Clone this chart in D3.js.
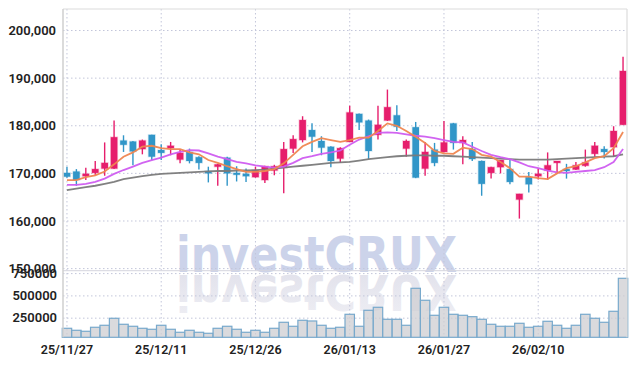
<!DOCTYPE html>
<html>
<head>
<meta charset="utf-8">
<script src="https://cdn.jsdelivr.net/npm/d3@7"></script>
<style>
  body { margin: 0; background: #fff; }
  svg { display: block; font-family: Roboto, "Liberation Sans", sans-serif; }
</style>
</head>
<body>
<div id="chart"></div>
<script>
// trading days (yy/mm/dd)
var dates = ["25/11/27","25/11/28","25/12/01","25/12/02","25/12/03","25/12/04","25/12/05","25/12/08","25/12/09","25/12/10",
  "25/12/11","25/12/12","25/12/15","25/12/16","25/12/17","25/12/18","25/12/19","25/12/22","25/12/23","25/12/24",
  "25/12/26","25/12/29","25/12/30","26/01/02","26/01/05","26/01/06","26/01/07","26/01/08","26/01/09","26/01/12",
  "26/01/13","26/01/14","26/01/15","26/01/16","26/01/19","26/01/20","26/01/21","26/01/22","26/01/23","26/01/26",
  "26/01/27","26/01/28","26/01/29","26/01/30","26/02/02","26/02/03","26/02/04","26/02/05","26/02/06","26/02/09",
  "26/02/10","26/02/11","26/02/12","26/02/13","26/02/19","26/02/20","26/02/23","26/02/24","26/02/25","26/02/26"];

var openP = [170100,170400,169400,170100,171000,171000,176900,176700,175100,178100,
  174900,175300,172900,174500,173400,170500,171400,173300,170100,169900,
  169200,168600,170600,171200,175200,177000,179100,176800,175600,173100,
  176600,182500,181100,178100,181100,182200,175200,179700,171000,175000,
  174500,180500,176400,175100,172600,170100,171300,170900,164500,169200,
  169400,170600,172200,170900,170800,171600,174100,175100,175500,180200];
var highP = [171400,170900,171200,172600,176500,181100,178000,176800,177100,178100,
  176100,176600,175000,175200,173600,171400,172000,173500,171500,171000,
  171400,171600,171800,176600,178000,182000,180500,177800,175700,175500,
  184200,182600,181300,184200,187600,184300,177100,180800,176600,176400,
  181000,180600,177800,176600,172700,171400,172800,172800,165700,170300,
  171000,174400,172600,172000,172400,175000,176600,175700,179900,194500];
var lowP = [169100,167400,168600,169600,169500,170900,174500,171700,174000,172800,
  172800,173800,172100,172100,170800,168100,167400,167400,168300,168200,
  169100,168000,169600,165800,174300,176500,174500,173800,171300,172200,
  176600,179100,173000,177100,181000,178900,173500,169000,169500,171500,
  174400,175000,171900,172600,165300,168900,170000,167700,160500,166000,
  168700,168700,170000,168900,170700,171400,173500,173100,173500,180200];
var closeP = [169300,168600,169900,170900,172200,177600,176000,174600,176900,173500,
  174300,175800,174300,172600,172200,170000,171900,170000,169700,169400,
  170700,171500,171500,175100,177200,181200,177700,175400,172600,175300,
  182800,180700,174700,180200,183900,179800,176800,169100,174500,172200,
  176500,176400,177000,173000,167800,171300,172800,168200,165700,167700,
  169900,171700,172600,170500,171700,172300,175800,174500,178900,191500];
var volume = [131000,108700,97500,142400,164800,243300,176000,153600,131000,120000,
  164800,120000,86300,108700,86300,75100,131000,153600,120000,86300,
  108700,86300,131000,198400,153600,220900,213000,164800,131000,142400,
  288100,153600,333000,366600,232100,232100,164800,579600,445100,276900,
  366600,288100,276900,261200,232100,176000,153600,153600,187200,142400,
  153600,209600,164800,131000,164800,288100,243300,198400,321800,691700];

// moving averages as drawn (short / middle / long)
var maShort = [168600,168600,169200,169600,170400,171900,173500,174400,175600,175800,
  175300,175100,175100,174400,174000,172800,172200,171500,170900,170300,
  170300,170500,170900,172100,173900,175700,176600,177400,177000,176600,
  177000,177500,177500,178900,180500,180000,178900,177700,176400,174700,
  174200,174100,175400,175100,173900,173500,172400,171100,169300,169300,
  169000,168800,170000,171100,171500,172300,173200,173600,175300,178700];
var maMid = [167600,167600,167800,168200,168900,169900,170700,171400,172200,172800,
  173300,174000,174500,174900,174800,174200,173500,173000,172400,172100,
  171700,171400,171200,171400,172200,173200,173600,174100,174400,174800,
  176000,177100,177800,178500,178600,178500,178200,177900,177700,177400,
  177000,176600,176500,175600,174700,173900,173400,173000,172300,171500,
  171100,170600,170200,170100,170300,170500,170700,171300,172400,175100];
var maLong = [166500,166800,167100,167400,167800,168200,168800,169100,169400,169700,
  169900,170000,170100,170200,170300,170400,170500,170500,170600,170600,
  170700,170800,171000,171200,171400,171600,171800,172000,172200,172300,
  172400,172700,173000,173200,173400,173600,173700,173800,173800,173700,
  173700,173600,173500,173400,173300,173200,173100,173000,172900,172900,
  172900,172900,173000,173100,173200,173300,173400,173500,173600,174000];

var priceTicks = [150000,160000,170000,180000,190000,200000];
var volumeTicks = [250000,500000,750000];
var dateTickEvery = 10;

var width = 636, height = 366;
var plotLeft = 63, plotRight = 627, plotTop = 9, priceBottom = 270.7, volBottom = 337.3;

var upColor = "#e61e6c", downColor = "#3196c8";
var gridColor = "#c3c6da";

var svg = d3.select("#chart").append("svg")
  .attr("width", width)
  .attr("height", height);

var defs = svg.append("defs");
var fade = defs.append("linearGradient")
  .attr("id", "fade")
  .attr("x1", 0).attr("y1", 0).attr("x2", 0).attr("y2", 1);
fade.append("stop").attr("offset", "0%").attr("stop-color", "#dedee9").attr("stop-opacity", 0.5);
fade.append("stop").attr("offset", "100%").attr("stop-color", "#dedee9").attr("stop-opacity", 0.95);

var x = d3.scaleLinear()
  .domain([-0.42, dates.length - 1 + 0.42])
  .range([plotLeft, plotRight]);
var step = x(1) - x(0);

var y = d3.scaleLinear()
  .domain([149560, 204520])
  .range([priceBottom, plotTop]);

var yv = d3.scaleLinear()
  .domain([30000, 777000])
  .range([volBottom, priceBottom]);

// watermark with reflection
var wm = svg.append("g").attr("class", "watermark")
  .style("font-family", "'DejaVu Sans', 'Liberation Sans', sans-serif")
  .style("font-weight", "bold")
  .style("font-size", "50px");
wm.append("text")
  .attr("x", 176).attr("y", 271.5)
  .attr("textLength", 281).attr("lengthAdjust", "spacingAndGlyphs")
  .style("fill", "#ccd3ea")
  .text("investCRUX");
wm.append("text")
  .attr("x", 176).attr("y", -275)
  .attr("transform", "scale(1,-1)")
  .attr("textLength", 281).attr("lengthAdjust", "spacingAndGlyphs")
  .style("fill", "url(#fade)")
  .text("investCRUX");

// grid
var tickIdx = d3.range(0, dates.length, dateTickEvery);
var grid = svg.append("g")
  .attr("stroke", gridColor)
  .attr("stroke-width", 1)
  .attr("stroke-dasharray", "1.5,2.5");

grid.selectAll(".hp").data(priceTicks).enter().append("line")
  .attr("x1", plotLeft).attr("x2", plotRight)
  .attr("y1", function(d) { return y(d); })
  .attr("y2", function(d) { return y(d); });

grid.selectAll(".hv").data(volumeTicks).enter().append("line")
  .attr("x1", plotLeft).attr("x2", plotRight)
  .attr("y1", function(d) { return yv(d) + 0.5; })
  .attr("y2", function(d) { return yv(d) + 0.5; });

grid.selectAll(".vx").data(tickIdx).enter().append("line")
  .attr("x1", function(d) { return x(d); })
  .attr("x2", function(d) { return x(d); })
  .attr("y1", plotTop).attr("y2", volBottom);

// volume bars
svg.append("g").selectAll("rect")
  .data(volume)
  .enter()
  .append("rect")
  .attr("x", function(d, i) { return x(i) - step / 2; })
  .attr("y", function(d) { return yv(d); })
  .attr("width", step)
  .attr("height", function(d) { return volBottom - yv(d); })
  .style("fill", "rgba(205,205,210,0.75)")
  .style("stroke", "#78a9cc")
  .style("stroke-width", 1.2);

// candles
var candles = svg.append("g").selectAll("g")
  .data(dates)
  .enter()
  .append("g");

candles.append("line")
  .attr("x1", function(d, i) { return x(i); })
  .attr("x2", function(d, i) { return x(i); })
  .attr("y1", function(d, i) { return y(highP[i]); })
  .attr("y2", function(d, i) { return y(lowP[i]); })
  .style("stroke", function(d, i) { return closeP[i] >= openP[i] ? upColor : downColor; })
  .style("stroke-width", 1.4);

candles.append("rect")
  .attr("x", function(d, i) { return x(i) - 3.3; })
  .attr("y", function(d, i) { return y(Math.max(openP[i], closeP[i])); })
  .attr("width", 6.6)
  .attr("height", function(d, i) { return Math.max(1.6, Math.abs(y(openP[i]) - y(closeP[i]))); })
  .style("fill", function(d, i) { return closeP[i] >= openP[i] ? upColor : downColor; })
  .style("stroke", function(d, i) { return closeP[i] >= openP[i] ? "rgba(230,30,108,0.25)" : "rgba(49,150,200,0.2)"; })
  .style("stroke-width", 1.5);

// moving averages
var line = d3.line()
  .x(function(d, i) { return x(i); })
  .y(function(d) { return y(d); });

[[maLong, "#7a7a7a"], [maMid, "#cf5cf0"], [maShort, "#ef8650"]].forEach(function(m) {
  svg.append("path")
    .datum(m[0])
    .attr("d", line)
    .style("fill", "none")
    .style("stroke", m[1])
    .style("stroke-width", 1.8)
    .style("opacity", 0.95);
});

// frame
svg.append("line").attr("x1", plotLeft).attr("x2", plotRight).attr("y1", plotTop).attr("y2", plotTop)
  .style("stroke", "#dcdcdc").style("stroke-width", 1.2);
svg.append("line").attr("x1", plotRight).attr("x2", plotRight).attr("y1", plotTop).attr("y2", volBottom)
  .style("stroke", "#dcdcdc").style("stroke-width", 1.2);
svg.append("line").attr("x1", plotLeft).attr("x2", plotRight).attr("y1", priceBottom).attr("y2", priceBottom)
  .style("stroke", "#d6d6de").style("stroke-width", 1);
svg.append("line").attr("x1", plotLeft).attr("x2", plotLeft).attr("y1", plotTop).attr("y2", volBottom)
  .style("stroke", "#cfcfcf").style("stroke-width", 1.5);

// labels
var fmt = d3.format(",");
svg.append("g").selectAll("text")
  .data(priceTicks)
  .enter()
  .append("text")
  .attr("x", 56)
  .attr("y", function(d) { return y(d); })
  .attr("dy", "0.36em")
  .attr("text-anchor", "end")
  .style("font-size", "13px")
  .style("font-weight", 600)
  .style("fill", "#222")
  .text(function(d) { return fmt(d); });

svg.append("g").selectAll("text")
  .data(volumeTicks)
  .enter()
  .append("text")
  .attr("x", 57)
  .attr("y", function(d) { return yv(d); })
  .attr("dy", "0.36em")
  .attr("text-anchor", "end")
  .style("font-size", "13px")
  .style("font-weight", 600)
  .style("fill", "#222")
  .text(function(d) { return d; });

svg.append("g").selectAll("text")
  .data(tickIdx)
  .enter()
  .append("text")
  .attr("x", function(d) { return x(d); })
  .attr("y", 354)
  .attr("text-anchor", "middle")
  .style("font-size", "12.5px")
  .style("font-weight", 600)
  .style("fill", "#222")
  .text(function(d) { return dates[d]; });
</script>
</body>
</html>
